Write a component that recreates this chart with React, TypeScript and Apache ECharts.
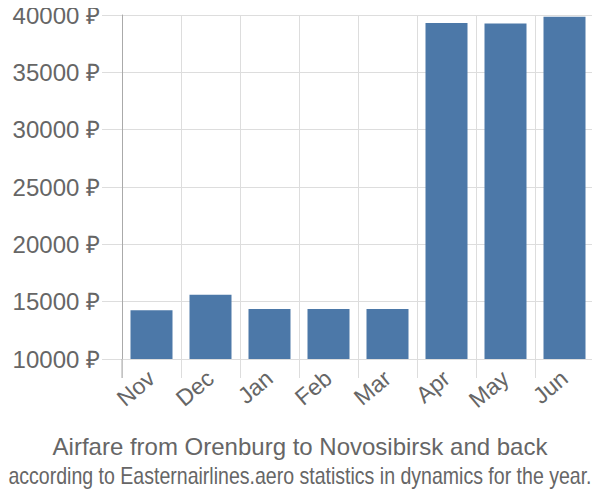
import React, { useEffect, useRef } from "react";
import * as echarts from "echarts";

const categories = ["Nov", "Dec", "Jan", "Feb", "Mar", "Apr", "May", "Jun"];
const prices = [14250, 15600, 14350, 14350, 14350, 39300, 39250, 39850];
const titleText = "Airfare from Orenburg to Novosibirsk and back";
const subtitleText = "according to Easternairlines.aero statistics in dynamics for the year.";

export default function App() {
  const ref = useRef<HTMLDivElement>(null);
  useEffect(() => {
    const chart = echarts.init(ref.current!, null, { renderer: "svg" });
    chart.setOption({
      animation: false,
      textStyle: { fontFamily: "Liberation Sans, Arial, sans-serif" },
      grid: { left: 122, right: 6, top: 15, bottom: 141, containLabel: false },
      xAxis: {
        type: "category",
        data: categories,
        boundaryGap: true,
        axisLine: { show: true, lineStyle: { color: "#ddd" } },
        axisTick: { show: true, length: 19, lineStyle: { color: "#ddd" } },
        splitLine: { show: true, lineStyle: { color: "#ddd" } },
        axisLabel: { rotate: 40, margin: 16, fontSize: 23, color: "#666" },
      },
      yAxis: {
        type: "value",
        min: 10000,
        max: 40000,
        interval: 5000,
        axisLine: { show: true, lineStyle: { color: "#aaa" } },
        axisTick: { show: true, length: 20, lineStyle: { color: "#ddd" } },
        splitLine: { show: true, lineStyle: { color: "#ddd" } },
        axisLabel: {
          margin: 22,
          fontSize: 24,
          color: "#666",
          formatter: (v: number) => v + " ₽",
        },
      },
      graphic: [
        {
          type: "line",
          shape: { x1: 122, y1: 359, x2: 122, y2: 378 },
          style: { stroke: "#aaa", lineWidth: 1 },
          z: 10,
        },
        {
          type: "text",
          x: 300,
          y: 446,
          style: {
            text: titleText,
            fill: "#666",
            font: "24px 'Liberation Sans', Arial, sans-serif",
            textAlign: "center",
            textVerticalAlign: "middle",
          },
        },
        {
          type: "text",
          x: 300,
          y: 476,
          scaleX: 0.85,
          style: {
            text: subtitleText,
            fill: "#666",
            font: "23px 'Liberation Sans', Arial, sans-serif",
            textAlign: "center",
            textVerticalAlign: "middle",
          },
        },
      ],
      series: [
        {
          type: "bar",
          data: prices,
          barWidth: 42,
          itemStyle: { color: "#4c78a8" },
        },
      ],
    });
    return () => chart.dispose();
  }, []);
  return <div ref={ref} style={{ width: 600, height: 500, margin: -8 }} />;
}
